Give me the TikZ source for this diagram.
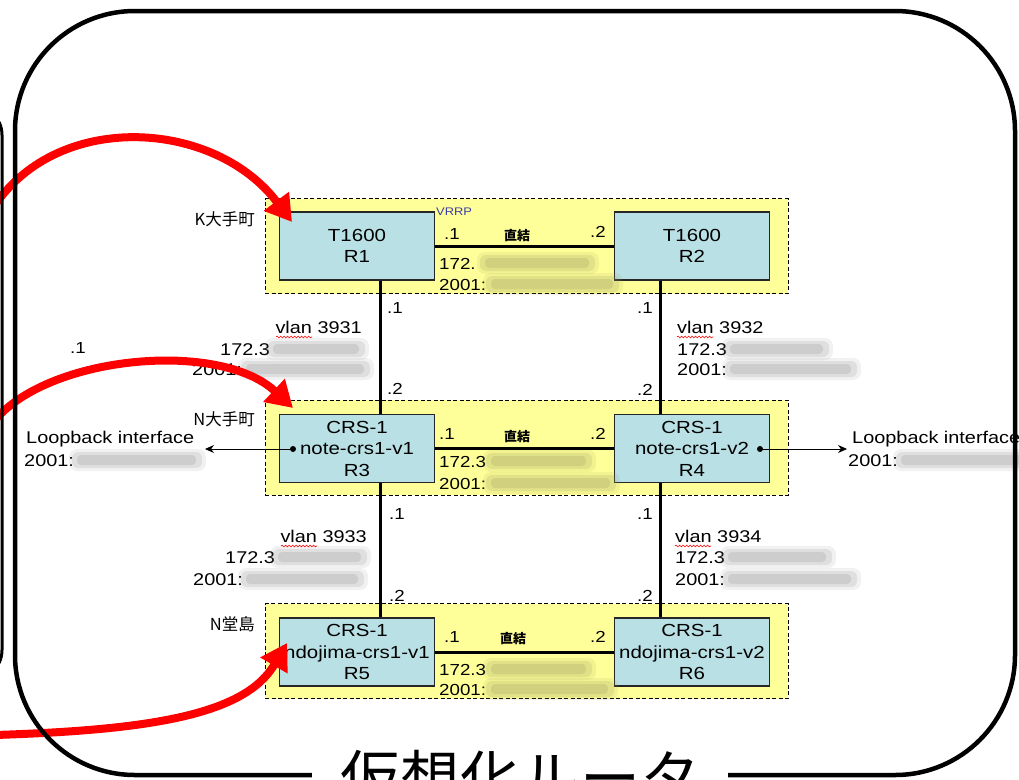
\documentclass[tikz,border=0pt]{standalone}
\usepackage{fontspec}
\setmainfont[FakeStretch=1.17]{Liberation Sans}
\newfontfamily\jp{Noto Sans CJK JP}
\usetikzlibrary{arrows.meta,decorations.pathmorphing}

\definecolor{zoneyellow}{RGB}{255,255,153}
\definecolor{routerblue}{RGB}{185,224,228}
\definecolor{vrrpblue}{RGB}{60,60,170}
\definecolor{smeargray}{RGB}{140,140,140}
\definecolor{smearolive}{RGB}{150,150,95}

\tikzset{
  zone/.style={draw, dash pattern=on 4pt off 2.5pt, fill=zoneyellow, line width=0.9pt, minimum width=523pt, minimum height=95pt, inner sep=0pt},
  router/.style={draw=black!85, fill=routerblue, line width=1.2pt, minimum width=155pt, minimum height=68pt, inner sep=0pt, align=center, font=\fontsize{17.5}{21.5}\selectfont},
  link/.style={line width=3pt},
  lbl/.style={inner sep=0pt, anchor=base, font=\fontsize{16}{18}\selectfont},
  addr/.style={inner sep=0pt, anchor=base west, font=\fontsize{16}{18}\selectfont},
  vlanw/.style={inner sep=0pt, anchor=base west, font=\fontsize{17}{20}\selectfont},
  vlane/.style={inner sep=0pt, anchor=base east, font=\fontsize{17}{20}\selectfont},
  place/.style={inner sep=0pt, anchor=base east, font=\jp\fontsize{16.5}{18}\selectfont},
  direct/.style={inner sep=0pt, anchor=base, font=\jp\bfseries\fontsize{13}{15}\selectfont},
  squiggle/.style={red, line width=0.6pt, decorate, decoration={snake, amplitude=0.9pt, segment length=3.5pt}},
  dotnode/.style={circle, fill=black, inner sep=0pt, minimum size=6pt},
  lbarrow/.style={line width=0.8pt, -{Stealth[length=9pt,width=8pt]}},
  redarrow/.style={red, line width=8pt, -{Triangle[length=26pt,width=30pt]}},
  frame/.style={line width=4.5pt, rounded corners=120pt},
  bigtitle/.style={fill=white, anchor=base, inner xsep=28pt, inner ysep=4pt, font=\jp\fontsize{60}{60}\selectfont}
}

\newcommand\smear[4]{%
  \fill[#1, opacity=.12, rounded corners=8pt] (#2-5,#4-17) rectangle (#3+6,#4+5);
  \fill[#1, opacity=.18, rounded corners=6pt] (#2-2,#4-14) rectangle (#3+2,#4+2);
  \fill[#1, opacity=.22, rounded corners=4pt] (#2+3,#4-11) rectangle (#3-4,#4-1);}

\begin{document}
\begin{tikzpicture}[x=1pt,y=-1pt]
\useasboundingbox (0,0) rectangle (1019,779);

\node[zone] (kzone) at (526.5,246) {};
\node[zone] (nzone) at (526.5,447.5) {};
\node[zone] (dzone) at (526.5,651) {};
\node[place] at (255,225) {K大手町};
\node[place] at (255,425) {N大手町};
\node[place] at (255,630) {N堂島};

\node[router] (r1) at (357,246) {T1600\\R1};
\node[router] (r2) at (692,246) {T1600\\R2};
\node[router] (r3) at (357,448.5) {CRS-1\\note-crs1-v1\\R3};
\node[router] (r4) at (692,448.5) {CRS-1\\note-crs1-v2\\R4};
\node[router] (r5) at (357,652) {CRS-1\\ndojima-crs1-v1\\R5};
\node[router] (r6) at (692,652) {CRS-1\\ndojima-crs1-v2\\R6};

\draw[link] (r1) -- (r2);
\draw[link] (r3) -- (r4);
\draw[link] (r5) -- (r6);
\draw[link] ([xshift=23pt]r1.south) -- ([xshift=23pt]r3.north);
\draw[link] ([xshift=-32pt]r2.south) -- ([xshift=-32pt]r4.north);
\draw[link] ([xshift=23pt]r3.south) -- ([xshift=23pt]r5.north);
\draw[link] ([xshift=-32pt]r4.south) -- ([xshift=-32pt]r6.north);

\node[inner sep=0pt, anchor=base west, text=vrrpblue, font=\fontsize{11}{12}\selectfont] at (436,215) {VRRP};
\node[lbl] at (452,239) {.1};
\node[lbl] at (598,237) {.2};
\node[direct] at (517,240) {直結};
\node[lbl] at (447,439) {.1};
\node[lbl] at (598,439) {.2};
\node[direct] at (517,441) {直結};
\node[lbl] at (452,642) {.1};
\node[lbl] at (598,642) {.2};
\node[direct] at (513,643) {直結};

\node[lbl] at (395,313) {.1};
\node[lbl] at (395,394) {.2};
\node[lbl] at (645,313) {.1};
\node[lbl] at (645,395) {.2};
\node[lbl] at (397,519) {.1};
\node[lbl] at (397,601) {.2};
\node[lbl] at (645,519) {.1};
\node[lbl] at (645,601) {.2};
\node[lbl] at (78,353) {.1};

\node[addr] at (439,269) {172.};
\node[addr] at (439,290) {2001:};
\smear{smearolive}{482}{593}{269}
\smear{smearolive}{488}{617}{290}
\node[addr] at (439,467) {172.3};
\node[addr] at (439,489) {2001:};
\smear{smearolive}{488}{590}{467}
\smear{smearolive}{488}{614}{489}
\node[addr] at (439,675) {172.3};
\node[addr] at (439,695) {2001:};
\smear{smearolive}{488}{590}{675}
\smear{smearolive}{488}{612}{695}

\node[vlane] at (362,333) {vlan 3931};
\node[vlanw] at (220,355) {172.3};
\node[vlanw] at (192,375) {2001:};
\smear{smeargray}{270}{363}{355}
\smear{smeargray}{243}{368}{375}
\draw[squiggle] (276,337) -- (312,337);

\node[vlanw] at (677,333) {vlan 3932};
\node[vlanw] at (677,355) {172.3};
\node[vlanw] at (677,375) {2001:};
\smear{smeargray}{727}{827}{355}
\smear{smeargray}{727}{855}{375}
\draw[squiggle] (677,337) -- (713,337);

\node[vlane] at (367,542) {vlan 3933};
\node[vlanw] at (225,563) {172.3};
\node[vlanw] at (193,585) {2001:};
\smear{smeargray}{275}{365}{563}
\smear{smeargray}{243}{362}{585}
\draw[squiggle] (281,546) -- (317,546);

\node[vlanw] at (675,542) {vlan 3934};
\node[vlanw] at (675,563) {172.3};
\node[vlanw] at (675,585) {2001:};
\smear{smeargray}{725}{830}{563}
\smear{smeargray}{725}{855}{585}
\draw[squiggle] (675,546) -- (711,546);

\node[dotnode] (p3) at (293,449) {};
\node[dotnode] (p4) at (760,449) {};
\coordinate (lb3) at (205,449);
\coordinate (lb4) at (847,449);
\draw[lbarrow] (p3) -- (lb3);
\draw[lbarrow] (p4) -- (lb4);
\node[vlanw] at (26,443) {Loopback interface};
\node[vlanw] at (24,466) {2001:};
\smear{smeargray}{74}{200}{466}
\node[vlanw] at (852,443) {Loopback interface};
\node[vlanw] at (848,466) {2001:};
\smear{smeargray}{898}{1030}{466}

\coordinate (a1s) at (-5,205);
\coordinate (a1e) at (292,222);
\coordinate (a2s) at (-5,420);
\coordinate (a2e) at (293,408);
\coordinate (a3s) at (-5,735);
\coordinate (a3e) at (287,643);
\draw[redarrow] (a1s) .. controls (60,110) and (215,120) .. (a1e);
\draw[redarrow] (a2s) .. controls (50,355) and (220,340) .. (a2e);
\draw[redarrow] (a3s) .. controls (150,730) and (245,715) .. (a3e);

\draw[line width=3pt, rounded corners=30pt] (-100,105) -- (2,105) -- (2,680) -- (-100,680);
\draw[frame] (15,11) rectangle (1015,775);
\node[bigtitle] (title) at (520,800) {仮想化ルータ};
\end{tikzpicture}
\end{document}
